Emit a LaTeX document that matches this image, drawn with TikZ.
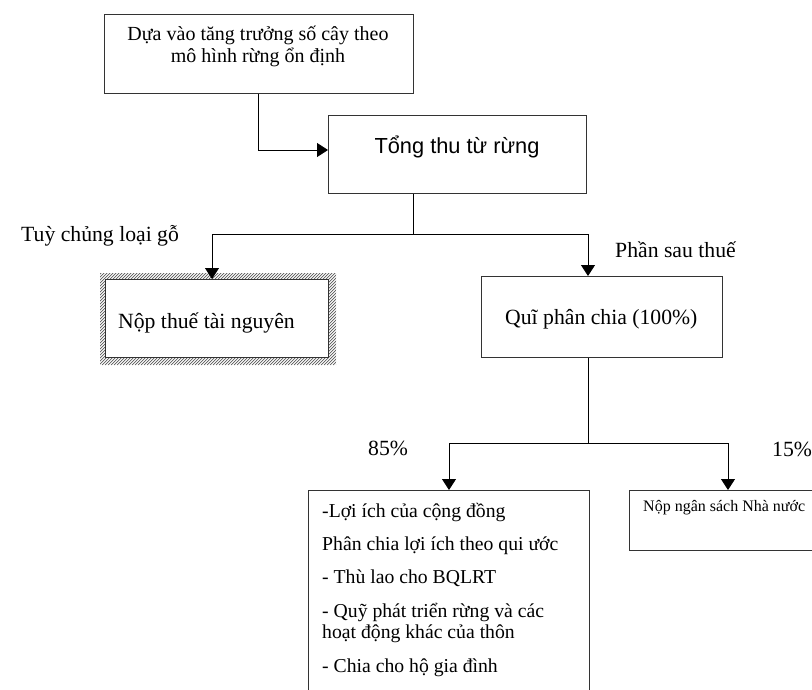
\documentclass[tikz,border=0pt]{standalone}
\usepackage{fontspec}
\setmainfont{Liberation Serif}
\newfontfamily\arialfont{Liberation Sans}
\usetikzlibrary{arrows.meta}

\tikzset{
  box/.style={draw=black!80, line width=1pt, fill=white, inner sep=0pt, anchor=north west},
  link/.style={draw=black, line width=0.9pt},
  arrowlink/.style={link, -{Triangle[length=11pt,width=14pt]}},
  txt/.style={inner sep=0pt, font=\fontsize{21.7}{26}\selectfont},
  boxtxt/.style={inner sep=0pt, font=\fontsize{20}{24}\selectfont},
  listtxt/.style={inner sep=0pt, font=\fontsize{19.7}{24}\selectfont},
  smalltxt/.style={inner sep=0pt, font=\fontsize{16}{19}\selectfont},
  sanstxt/.style={inner sep=0pt, font=\arialfont\fontsize{21.8}{26}\selectfont},
}

\begin{document}
\begin{tikzpicture}[x=1pt,y=-1pt]
\useasboundingbox (0,0) rectangle (812,689);

% --- boxes ---------------------------------------------------------------
\node[box, minimum width=309pt, minimum height=79pt] (basis) at (104,14) {};
\node[box, minimum width=258pt, minimum height=78pt] (total) at (328,115) {};

% hatched frame around the resource-tax box
\begin{scope}[even odd rule]
  \clip (100,273) rectangle (336,365) (105,279) rectangle (328,357);
  \foreach \k in {0,3,...,340}
    \draw[black!65, line width=0.7pt] (100+\k-100,365) -- (100+\k,265);
\end{scope}
\node[box, minimum width=223pt, minimum height=78pt] (tax) at (105,279) {};

\node[box, minimum width=241pt, minimum height=81pt] (fund) at (481,276) {};
\node[box, minimum width=281pt, minimum height=230pt] (community) at (308,490) {};
\node[box, minimum width=200pt, minimum height=60pt] (state) at (629,490) {};

% --- texts ---------------------------------------------------------------
\node[boxtxt, anchor=base] (basis1) at (258,40) {Dựa vào tăng trưởng số cây theo};
\node[boxtxt, anchor=base] (basis2) at (258,62) {mô hình rừng ổn định};
\node[sanstxt, anchor=base] (totaltxt) at (457,153) {Tổng thu từ rừng};
\node[txt, anchor=base west] (taxtxt) at (118,328) {Nộp thuế tài nguyên};
\node[txt, anchor=base west] (fundtxt) at (505,324) {Quĩ phân chia (100\%)};

\node[txt, anchor=base west] (lblkind) at (21,241) {Tuỳ chủng loại gỗ};
\node[txt, anchor=base west] (lblafter) at (615,257) {Phần sau thuế};
\node[txt, anchor=base west] (lbl85) at (368,455) {85\%};
\node[txt, anchor=base west] (lbl15) at (772,456) {15\%};

\node[listtxt, anchor=base west] (c1) at (322,517) {-Lợi ích của cộng đồng};
\node[listtxt, anchor=base west] (c2) at (322,550) {Phân chia lợi ích theo qui ước};
\node[listtxt, anchor=base west] (c3) at (322,583) {- Thù lao cho BQLRT};
\node[listtxt, anchor=base west] (c4) at (322,617) {- Quỹ phát triển rừng và các};
\node[listtxt, anchor=base west] (c5) at (322,638) {hoạt động khác của thôn};
\node[listtxt, anchor=base west] (c6) at (322,672) {- Chia cho hộ gia đình};

\node[smalltxt, anchor=base west] (statetxt) at (643,511) {Nộp ngân sách Nhà nước};

% --- connectors ----------------------------------------------------------
\coordinate (j1) at (258,150);
\draw[arrowlink] (basis.south west -| j1) -- (j1) -- (total.west |- j1);

\coordinate (j2) at (413,234);
\coordinate (jl) at (212,234);
\coordinate (jr) at (588,234);
\draw[link] (total.south west -| j2) -- (j2);
\draw[link] (jl) -- (jr);
\draw[arrowlink] (jl) -- (tax.north west -| jl);
\draw[arrowlink] (jr) -- (fund.north west -| jr);

\coordinate (j3) at (588,443);
\coordinate (jl2) at (449,443);
\coordinate (jr2) at (728,443);
\draw[link] (fund.south west -| j3) -- (j3);
\draw[link] (jl2) -- (jr2);
\draw[arrowlink] (jl2) -- (community.north west -| jl2);
\draw[arrowlink] (jr2) -- (state.north west -| jr2);
\end{tikzpicture}
\end{document}
